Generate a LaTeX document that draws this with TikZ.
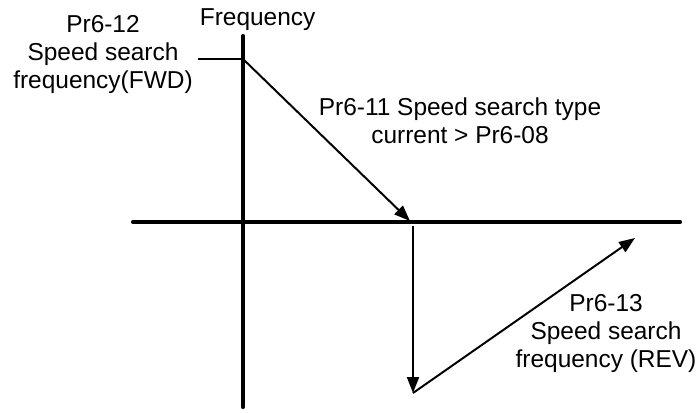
\documentclass[tikz,border=0pt]{standalone}
\usepackage{fontspec}
\setmainfont{Liberation Sans}
\usepackage{tikz}
\usetikzlibrary{arrows.meta,positioning}

\begin{document}
\begin{tikzpicture}[
    axis/.style={line width=2.9pt, line cap=round},
    thinline/.style={line width=1.4pt},
    arrowline/.style={thinline, -{Triangle[length=0.4cm,width=0.3cm]}},
    lbl/.style={font=\fontsize{17.4}{19.6}\selectfont, align=center, inner sep=0pt, anchor=base}]
  \useasboundingbox (0,0) rectangle (17.475,-10.3);
  % axes
  \coordinate (ytop) at (6.075,-0.9);
  \coordinate (ybot) at (6.075,-10.175);
  \coordinate (xleft) at (3.325,-5.55);
  \coordinate (xright) at (17,-5.55);
  \draw[axis] (ytop) -- (ybot);
  \draw[axis] (xleft) -- (xright);
  % search path
  \coordinate (tick) at (4.95,-1.475);
  \coordinate (fwd) at (6.075,-1.475);
  \coordinate (zero) at (10.25,-5.525);
  \coordinate (drop) at (10.325,-5.65);
  \coordinate (rev) at (10.325,-9.825);
  \coordinate (rise) at (15.875,-5.95);
  \draw[thinline] (tick) -- (fwd);
  \draw[arrowline] (fwd) -- (zero);
  \draw[arrowline] (drop) -- (rev);
  \draw[arrowline] (rev) -- (rise);
  % labels (base = last line)
  \node[lbl] (freqlabel) at (6.44,-0.625) {Frequency};
  \node[lbl] (fwdlabel) at (2.575,-2.2) {Pr6-12\\Speed search\\frequency(FWD)};
  \node[lbl] (typelabel) at (11.5,-3.575) {Pr6-11 Speed search type\\current > Pr6-08};
  \node[lbl] (revlabel) at (15.15,-9.175) {Pr6-13\\Speed search\\frequency (REV)};
\end{tikzpicture}
\end{document}
